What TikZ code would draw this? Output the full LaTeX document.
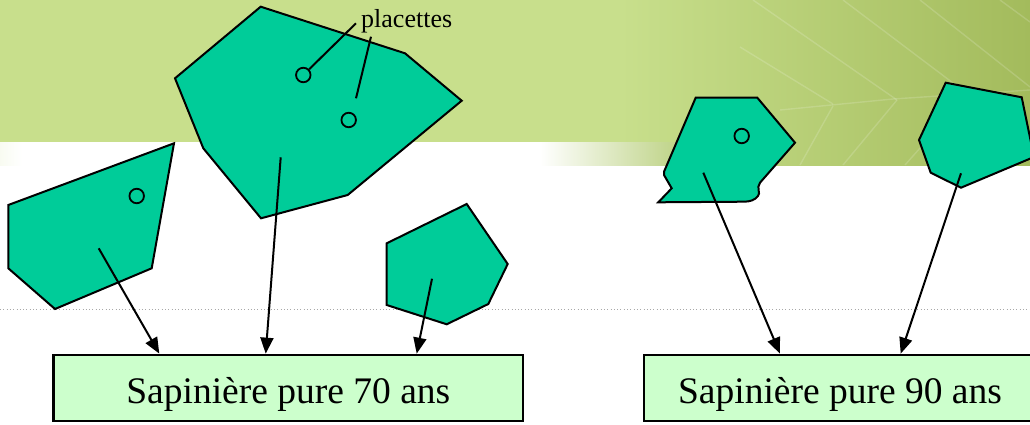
\documentclass[tikz,border=0pt]{standalone}
\usepackage{fontspec}
\setmainfont{Liberation Serif}
\usetikzlibrary{arrows.meta}
\definecolor{bandgreen}{HTML}{C8DF8C}
\definecolor{leafgreen}{HTML}{A3BB5C}
\definecolor{leafmid}{HTML}{B4CC74}
\definecolor{plotfill}{HTML}{00CC99}
\definecolor{boxfill}{HTML}{CCFFCC}
\definecolor{dotgray}{HTML}{A8A8A8}
\tikzset{
  plot/.style={draw=black, fill=plotfill, line width=2pt, line join=miter},
  placette/.style={draw=black, line width=1.8pt, circle, minimum size=14.5pt, inner sep=0pt},
  arr/.style={draw=black, line width=2pt, -{Triangle[length=16pt,width=13pt]}},
  leader/.style={draw=black, line width=2pt},
  standbox/.style={draw=black, fill=boxfill, line width=2.7pt, inner sep=0pt,
    minimum height=66pt, text height=38pt, text depth=8pt,
    font=\fontsize{37.5}{44}\selectfont},
  vein/.style={draw=white, opacity=0.16, line width=1.4pt},
}
\begin{document}
\begin{tikzpicture}[x=1pt, y=-1pt]
\useasboundingbox (0,0) rectangle (1030,425);
\clip (0,0) rectangle (1030,425);
% background
\fill[white] (0,0) rectangle (1030,425);
\fill[bandgreen] (0,0) rectangle (1030,142);
\shade[left color=bandgreen, right color=leafgreen] (620,0) rectangle (1030,165);
\fill[bandgreen] (540,0) rectangle (621,142);
\shade[left color=white, right color=leafmid] (540,142) rectangle (700,165);
\shade[left color=bandgreen!12, right color=white] (0,142) rectangle (22,165);
% leaf veins
\draw[vein] (780,110) -- (893,99) -- (1030,90);
\draw[vein] (753,0) -- (897,100);
\draw[vein] (843,0) -- (953,83);
\draw[vein] (920,0) -- (1030,87);
\draw[vein] (1000,0) -- (1030,22);
\draw[vein] (740,47) -- (833,104);
\draw[vein] (833,106) -- (800,165);
\draw[vein] (897,100) -- (843,165);
\draw[vein] (967,95) -- (905,165);
% dotted line
\draw[dotgray, line width=1pt, dash pattern=on 1pt off 2.3pt] (0,309.5) -- (1030,309.5);
% plots
\draw[plot] (260.7,6.7) -- (405,53.3) -- (461.7,100.7) -- (347.7,195) -- (261,218.3) -- (203.3,148.3) -- (175,78.3) -- cycle;
\draw[plot] (8.3,205) -- (174,143.3) -- (151.7,268.3) -- (55,309) -- (8.3,268.3) -- cycle;
\draw[plot] (386.7,243.3) -- (466.7,204) -- (507.7,264) -- (488.3,304) -- (446.7,324.3) -- (386.7,305) -- cycle;
\draw[plot] (695.7,97.7) -- (757.3,97.7) -- (795,142.7) -- (760,182.7)
  .. controls (756,188) and (761,193) .. (758,196)
  .. controls (755,200) and (750,201.7) .. (744,201.7)
  -- (658.3,202.3) -- (671.7,188.3) -- (664,175) -- (664,171.7) -- cycle;
\draw[plot] (945.7,82.7) -- (1021.7,97.3) -- (1034,157) -- (961,187.7) -- (930.7,172.7) -- (919,140) -- cycle;
% placettes
\node[placette] (c1) at (303.3,75) {};
\node[placette] (c2) at (348.7,120) {};
\node[placette] (c3) at (136.7,196) {};
\node[placette] (c4) at (741.7,136) {};
% label
\node[anchor=base west, inner sep=0pt, font=\fontsize{26}{30}\selectfont] (lab) at (361,27.5) {placettes};
\coordinate (l1) at (356,23.3);
\coordinate (l2) at (371,36.7);
\coordinate (l2e) at (356,98.3);
\draw[leader] (c1) -- (l1);
\draw[leader] (l2) -- (l2e);
% boxes
\node[standbox, minimum width=469.5pt] (b1) at (288.3,388) {Sapinière pure 70 ans};
\node[standbox, minimum width=392pt] (b2) at (840,388) {Sapinière pure 90 ans};
% arrow starts
\coordinate (s1) at (98.7,248.3);
\coordinate (s2) at (280.7,157.3);
\coordinate (s3) at (432,278.7);
\coordinate (s4) at (703.3,172.7);
\coordinate (s5) at (961,173.3);
\coordinate (e1) at (159.3,0);
\coordinate (e2) at (265.7,0);
\coordinate (e3) at (416.7,0);
\coordinate (e4) at (780,0);
\coordinate (e5) at (900.7,0);
\draw[arr] (s1) -- (e1 |- b1.north);
\draw[arr] (s2) -- (e2 |- b1.north);
\draw[arr] (s3) -- (e3 |- b1.north);
\draw[arr] (s4) -- (e4 |- b2.north);
\draw[arr] (s5) -- (e5 |- b2.north);
\end{tikzpicture}
\end{document}
